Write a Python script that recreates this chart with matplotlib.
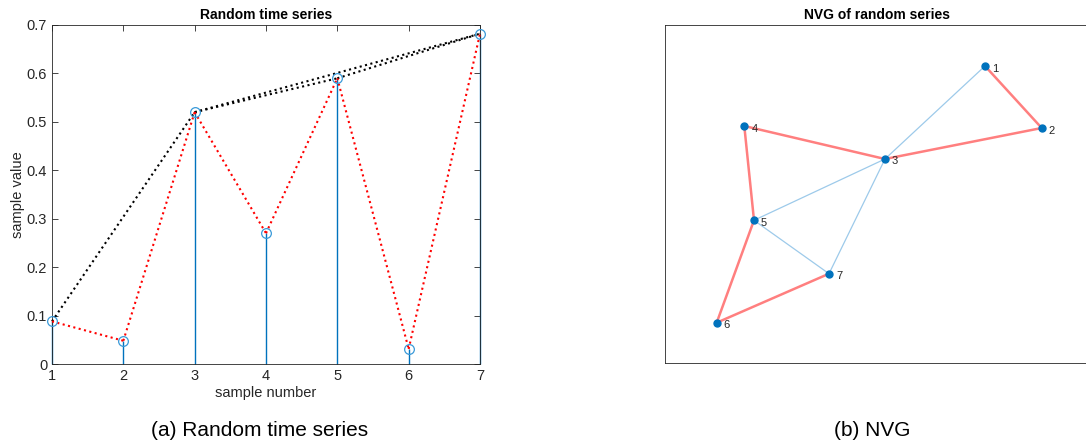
import matplotlib
matplotlib.use("Agg")
import matplotlib.pyplot as plt

plt.rcParams['font.family'] = ['Liberation Sans', 'DejaVu Sans']

# random time series
sample_number = [1, 2, 3, 4, 5, 6, 7]
sample_value = [0.088, 0.048, 0.520, 0.270, 0.590, 0.031, 0.682]

# visibility edges (pairs of sample numbers)
edges_neighbour = [(1, 2), (2, 3), (3, 4), (4, 5), (5, 6), (6, 7)]
edges_far = [(1, 3), (3, 5), (3, 7), (5, 7)]

# graph layout of the NVG
node_labels = ["1", "2", "3", "4", "5", "6", "7"]
node_x = [3.20, 3.767, 2.20, 0.793, 0.89, 0.517, 1.64]
node_y = [2.97, 2.35, 2.04, 2.37, 1.427, 0.403, 0.893]

blue = "#0072BD"
axcol = "#262626"

fig = plt.figure(figsize=(10.86, 4.45), dpi=100)

# ---- left: time series
ax1 = fig.add_axes([52 / 1086, 81 / 445, 428 / 1086, 339 / 445])
for a, b in edges_far:
    ax1.plot([a, b], [sample_value[a - 1], sample_value[b - 1]],
             ':', color="black", lw=1.5, zorder=3, clip_on=False)
for a, b in edges_neighbour:
    ax1.plot([a, b], [sample_value[a - 1], sample_value[b - 1]],
             ':', color="red", lw=1.5, zorder=3, clip_on=False)
ax1.vlines(sample_number, 0, sample_value, color=blue, lw=1.0, zorder=2,
           clip_on=False)
ax1.plot(sample_number, sample_value, 'o', mfc="none", mec="#3A9AD9",
         ms=7, mew=0.9, zorder=4, clip_on=False)
ax1.set_xlim(1, 7)
ax1.set_ylim(0, 0.7)
ax1.set_xticks(sample_number)
ax1.set_yticks([0, 0.1, 0.2, 0.3, 0.4, 0.5, 0.6, 0.7])
ax1.set_yticklabels(["0", "0.1", "0.2", "0.3", "0.4", "0.5", "0.6", "0.7"])
ax1.tick_params(direction="in", top=True, right=True, labelsize=10.5,
                colors=axcol, length=4, width=0.6)
for s in ax1.spines.values():
    s.set_color(axcol)
    s.set_linewidth(0.6)
ax1.set_xlabel("sample number", fontsize=10.5, color=axcol, labelpad=2)
ax1.set_ylabel("sample value", fontsize=10.5, color=axcol, labelpad=1)
ax1.set_title("Random time series", fontsize=10, fontweight="bold", pad=4)

# ---- right: NVG
ax2 = fig.add_axes([665 / 1086, 82 / 445, 425 / 1086, 338 / 445])
for a, b in edges_far:
    ax2.plot([node_x[a - 1], node_x[b - 1]], [node_y[a - 1], node_y[b - 1]],
             '-', color="#9DCAEA", lw=0.9, zorder=2)
for a, b in edges_neighbour:
    ax2.plot([node_x[a - 1], node_x[b - 1]], [node_y[a - 1], node_y[b - 1]],
             '-', color="#FF7F7F", lw=1.8, zorder=2)
ax2.plot(node_x, node_y, 'o', color=blue, ms=5, zorder=3)
for lab, x, y in zip(node_labels, node_x, node_y):
    ax2.text(x + 0.07, y - 0.025, lab, fontsize=8, color=axcol,
             va="center", ha="left", zorder=4)
ax2.set_xlim(0, 4.25)
ax2.set_ylim(0, 3.38)
ax2.set_xticks([])
ax2.set_yticks([])
for s in ax2.spines.values():
    s.set_color(axcol)
    s.set_linewidth(0.6)
ax2.set_title("NVG of random series", fontsize=10, fontweight="bold", pad=4)

# captions
fig.text(260 / 1086, 1 - 430 / 445, "(a) Random time series", fontsize=15,
         ha="center", va="center")
fig.text(872 / 1086, 1 - 430 / 445, "(b) NVG", fontsize=15,
         ha="center", va="center")

fig.savefig("out.png", dpi=100)
